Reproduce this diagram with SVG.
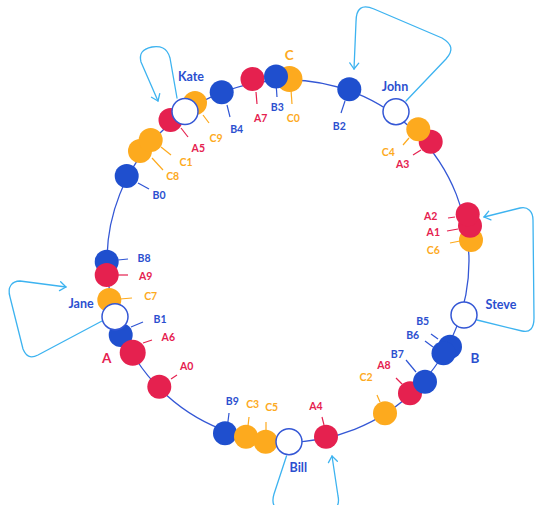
<svg xmlns="http://www.w3.org/2000/svg" width="535" height="505" viewBox="0 0 535 505">
<style>
.ring{fill:none;stroke:#3457d5;stroke-width:1.3}
.loop{fill:none;stroke:#3db3f0;stroke-width:1.3;stroke-linecap:round;stroke-linejoin:round}
.b{fill:#1f4fce}.r{fill:#e5214f}.o{fill:#fdaa1e}
.h{fill:#fff;stroke:#3457d5;stroke-width:1.5}
.tb{stroke:#2f55d4;stroke-width:1.2}.tr{stroke:#e5214f;stroke-width:1.2}.to{stroke:#fdaa1e;stroke-width:1.2}
text{font-family:"Lato","Open Sans",sans-serif;font-weight:bold;text-anchor:middle}
.lb{fill:#2b4fcf;font-size:10.5px}.lr{fill:#e5214f;font-size:10.5px}.lo{fill:#fdaa1e;font-size:10.5px}
.nm{fill:#2b4fcf;font-size:12.5px}
.g{font-size:13.5px}
</style>
<defs>
<marker id="ah" markerWidth="12" markerHeight="12" viewBox="-8 -6 10 12" refX="0" refY="0" orient="auto" markerUnits="userSpaceOnUse">
<path d="M-6,-4.5 L0,0 L-6,4.5" fill="none" stroke="#3db3f0" stroke-width="1.3" stroke-linecap="round" stroke-linejoin="round"/>
</marker>
</defs>
<g id="connectors">
<circle class="ring" cx="288" cy="261" r="181"/>
<path class="loop" d="M406,101 L446,59 C454,50 452,44 442,38 L374,9 C362,4 356,8 356,22 L354,69" marker-end="url(#ah)"/>
<path class="loop" d="M477,320 L522,331 C530,333 534,328 534,318 L533,220 C533,212 528,206 520,208 L484,217" marker-end="url(#ah)"/>
<path class="loop" d="M286.5,456 L274,494 C270,507 278,512 288,512 L325,512 C336,512 340,505 338,496 L332,456" marker-end="url(#ah)"/>
<path class="loop" d="M102,321 L38,355 C30,359 26,356 23,349 L10,297 C7,287 12,281 20,281 L66,287" marker-end="url(#ah)"/>
<path class="loop" d="M177,98 L170,58 C167,47 160,46 152,47 C142,49 139,54 141,62 L158,101" marker-end="url(#ah)"/>
</g>
<g id="ticks">
<line class="tb" x1="227" y1="105" x2="230" y2="117"/>
<line class="tr" x1="256" y1="92" x2="257" y2="104"/>
<line class="tb" x1="276" y1="83" x2="277" y2="97"/>
<line class="to" x1="291" y1="90" x2="292" y2="104"/>
<line class="to" x1="203" y1="115" x2="209" y2="123"/>
<line class="tr" x1="181" y1="128" x2="188" y2="137"/>
<line class="to" x1="161" y1="147" x2="171" y2="155"/>
<line class="to" x1="152" y1="158" x2="163" y2="170"/>
<line class="tb" x1="138" y1="183" x2="149" y2="189"/>
<line class="tb" x1="345" y1="101" x2="341" y2="113"/>
<line class="to" x1="409" y1="138" x2="403" y2="145"/>
<line class="tr" x1="421" y1="150" x2="413" y2="155"/>
<line class="tr" x1="448" y1="218" x2="455" y2="217"/>
<line class="tr" x1="447" y1="231" x2="458" y2="229"/>
<line class="to" x1="450" y1="243" x2="460" y2="241"/>
<line class="tb" x1="431" y1="334" x2="438" y2="339"/>
<line class="tb" x1="425" y1="341" x2="433" y2="347"/>
<line class="tb" x1="406" y1="360" x2="416" y2="372"/>
<line class="tr" x1="396" y1="378" x2="402" y2="384"/>
<line class="to" x1="377" y1="395" x2="380" y2="402"/>
<line class="tb" x1="229" y1="413" x2="227" y2="430"/>
<line class="to" x1="249" y1="417" x2="248" y2="426"/>
<line class="to" x1="266" y1="422" x2="266" y2="430"/>
<line class="tr" x1="322" y1="417" x2="324" y2="425"/>
<line class="tb" x1="118" y1="260" x2="128" y2="259"/>
<line class="tr" x1="118" y1="275" x2="128" y2="275"/>
<line class="to" x1="120" y1="299" x2="132" y2="298"/>
<line class="tb" x1="131" y1="327" x2="143" y2="322"/>
<line class="tr" x1="143" y1="343" x2="152" y2="340"/>
<line class="tr" x1="171" y1="379" x2="177" y2="375"/>
</g>
<g id="node-C0"><circle class="o" cx="289.5" cy="79" r="13"/></g>
<g id="node-A7"><circle class="r" cx="252.5" cy="79" r="12"/></g>
<g id="node-B3"><circle class="b" cx="276" cy="76.5" r="12"/></g>
<g id="node-B4"><circle class="b" cx="221.7" cy="92.3" r="12"/></g>
<g id="node-C9"><circle class="o" cx="195" cy="103" r="12"/></g>
<g id="node-C8"><circle class="o" cx="140" cy="151" r="12"/></g>
<g id="node-C1"><circle class="o" cx="150.7" cy="140" r="12"/></g>
<g id="node-A5"><circle class="r" cx="170.5" cy="120" r="12"/></g>
<g id="node-Kate"><circle class="h" cx="185" cy="111.5" r="13"/></g>
<g id="node-B0"><circle class="b" cx="126.7" cy="176" r="12"/></g>
<g id="node-B2"><circle class="b" cx="349.3" cy="89.3" r="12"/></g>
<g id="node-A3"><circle class="r" cx="430.7" cy="141.7" r="12"/></g>
<g id="node-John"><circle class="h" cx="396" cy="111.7" r="13"/></g>
<g id="node-C4"><circle class="o" cx="418.3" cy="129.3" r="12"/></g>
<g id="node-C6"><circle class="o" cx="471" cy="240" r="12"/></g>
<g id="node-A1"><circle class="r" cx="470" cy="225.7" r="12"/></g>
<g id="node-A2"><circle class="r" cx="467.7" cy="214.3" r="12"/></g>
<g id="node-Steve"><circle class="h" cx="464" cy="315" r="13"/></g>
<g id="node-B5"><circle class="b" cx="450" cy="346.7" r="12"/></g>
<g id="node-B6"><circle class="b" cx="443.5" cy="353.3" r="12"/></g>
<g id="node-A8"><circle class="r" cx="410" cy="393.3" r="12"/></g>
<g id="node-B7"><circle class="b" cx="425" cy="381.7" r="12"/></g>
<g id="node-C2"><circle class="o" cx="385" cy="413.3" r="12"/></g>
<g id="node-A4"><circle class="r" cx="326" cy="436.7" r="12"/></g>
<g id="node-B9"><circle class="b" cx="225" cy="433.3" r="12"/></g>
<g id="node-C3"><circle class="o" cx="246" cy="436.7" r="12"/></g>
<g id="node-C5"><circle class="o" cx="265.7" cy="441.7" r="12"/></g>
<g id="node-Bill"><circle class="h" cx="289" cy="441.7" r="13"/></g>
<g id="node-A0"><circle class="r" cx="159.3" cy="386.7" r="12"/></g>
<g id="node-B1"><circle class="b" cx="120.7" cy="335" r="12"/></g>
<g id="node-A6"><circle class="r" cx="132.7" cy="352.7" r="13"/></g>
<g id="node-C7"><circle class="o" cx="109.3" cy="300" r="12"/></g>
<g id="node-Jane"><circle class="h" cx="115" cy="316.7" r="13"/></g>
<g id="node-B8"><circle class="b" cx="106.7" cy="261.7" r="12"/></g>
<g id="node-A9"><circle class="r" cx="106.7" cy="275" r="12"/></g>
<g id="labels">
<text class="nm" x="191" y="80.5">Kate</text>
<text class="lo g" x="289.3" y="59.8">C</text>
<text class="nm" x="395" y="90.5">John</text>
<text class="nm" x="501" y="308.5">Steve</text>
<text class="nm" x="298.3" y="471.8">Bill</text>
<text class="nm" x="81" y="307.8">Jane</text>
<text class="lb g" x="475" y="362.8">B</text>
<text class="lr g" x="106.7" y="363.1">A</text>
<text class="lo" x="216" y="142">C9</text>
<text class="lr" x="198.3" y="152">A5</text>
<text class="lo" x="186" y="166.4">C1</text>
<text class="lo" x="172.7" y="180.4">C8</text>
<text class="lb" x="236.7" y="133">B4</text>
<text class="lr" x="260.7" y="122.4">A7</text>
<text class="lb" x="277.3" y="111">B3</text>
<text class="lo" x="293.3" y="122">C0</text>
<text class="lb" x="159" y="198.7">B0</text>
<text class="lb" x="339.3" y="130.4">B2</text>
<text class="lo" x="388.3" y="156.4">C4</text>
<text class="lr" x="402.7" y="167.7">A3</text>
<text class="lr" x="430.7" y="220.4">A2</text>
<text class="lr" x="433.3" y="236.4">A1</text>
<text class="lo" x="433.3" y="253.7">C6</text>
<text class="lb" x="422.7" y="325.4">B5</text>
<text class="lb" x="412.7" y="338.7">B6</text>
<text class="lb" x="397.3" y="357.7">B7</text>
<text class="lr" x="384" y="368.7">A8</text>
<text class="lo" x="366" y="381">C2</text>
<text class="lb" x="232.3" y="405.4">B9</text>
<text class="lo" x="252.7" y="407.7">C3</text>
<text class="lo" x="271.7" y="411">C5</text>
<text class="lr" x="316" y="409.7">A4</text>
<text class="lb" x="144" y="262">B8</text>
<text class="lr" x="145.7" y="280.4">A9</text>
<text class="lo" x="150.7" y="300.4">C7</text>
<text class="lb" x="160" y="322.7">B1</text>
<text class="lr" x="168.3" y="341.4">A6</text>
<text class="lr" x="186.7" y="369.7">A0</text>
</g>
</svg>
